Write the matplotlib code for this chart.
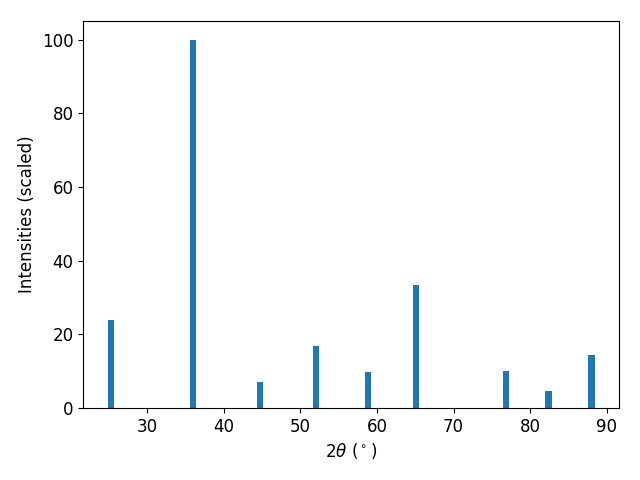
import matplotlib.pyplot as plt

two_theta = [25.25, 36.05, 44.7, 52.1, 58.8, 65.05, 76.8, 82.4, 88.0]
intensity = [24.0, 100.0, 7.1, 16.7, 9.9, 33.4, 10.1, 4.7, 14.5]

plt.rcParams["font.size"] = 12

fig, ax = plt.subplots(figsize=(6.4, 4.8), dpi=100)
ax.bar(two_theta, intensity, width=0.8)
ax.set_xlabel(r"$2\theta$ ($^\circ$)")
ax.set_ylabel("Intensities (scaled)")
fig.subplots_adjust(left=0.13, right=0.967, top=0.956, bottom=0.15)
fig.savefig("out.png")
